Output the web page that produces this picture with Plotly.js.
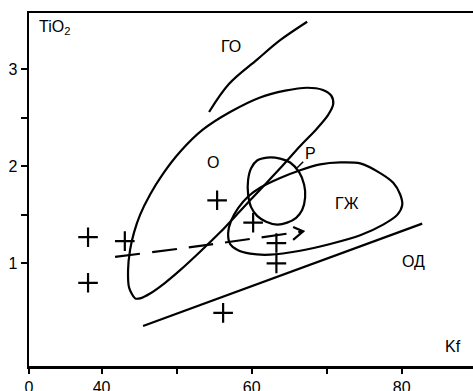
<!DOCTYPE html>
<html>
<head>
<meta charset="utf-8">
<script src="https://cdn.plot.ly/plotly-3.0.1.min.js"></script>
<style>html,body{margin:0;padding:0;background:#fff}#chart{width:473px;height:391px}</style>
</head>
<body>
<div id="chart"></div>
<script>
// Sample points (+)
const crossKf   = [38.2, 38.2, 43.1, 55.4, 60.2, 63.3, 63.3, 56.2];
const crossTiO2 = [1.27, 0.80, 1.23, 1.65, 1.42, 1.21, 1.00, 0.49];

// Field "O"
const oKf   = [44.47, 43.67, 43.53, 43.8, 44.33, 45.13, 46.47, 48.07, 50.47, 53.53, 57.13, 61.13, 64.47, 67.4, 69.4, 70.6, 70.87, 70.2, 68.6, 66.47, 63.8, 61.13, 58.47, 55.8, 53.13, 50.47, 48.47, 46.47, 45.13, 44.47];
const oTiO2 = [0.64, 0.75, 0.93, 1.14, 1.32, 1.50, 1.71, 1.91, 2.15, 2.38, 2.56, 2.71, 2.78, 2.81, 2.79, 2.73, 2.64, 2.53, 2.38, 2.21, 1.98, 1.76, 1.54, 1.32, 1.12, 0.93, 0.80, 0.69, 0.64, 0.64];

// Field "ГЖ"
const gzKf   = [59.53, 61.13, 63.8, 66.47, 69.13, 71.8, 74.47, 77.13, 78.87, 79.8, 80.07, 79.4, 77.53, 74.47, 70.47, 66.47, 62.47, 59.8, 58.07, 57.13, 56.87, 57.27, 58.2, 59.53];
const gzTiO2 = [1.69, 1.78, 1.88, 1.96, 2.02, 2.04, 2.03, 1.93, 1.83, 1.71, 1.60, 1.50, 1.40, 1.29, 1.20, 1.13, 1.09, 1.10, 1.14, 1.20, 1.31, 1.44, 1.57, 1.69];

// Field "Р"
const rKf   = [59.53, 59.53, 59.93, 60.73, 62.07, 63.8, 65.13, 66.33, 67.0, 67.13, 66.73, 65.93, 64.73, 63.4, 61.93, 60.73, 59.93, 59.53];
const rTiO2 = [1.71, 1.86, 1.98, 2.06, 2.09, 2.08, 2.04, 1.94, 1.81, 1.68, 1.55, 1.47, 1.42, 1.40, 1.43, 1.49, 1.58, 1.71];

// Line "ГО"
const goKf   = [54.33, 57.0, 60.73, 63.8, 67.4];
const goTiO2 = [2.56, 2.85, 3.10, 3.30, 3.49];

// Line "ОД"
const odKf   = [45.53, 82.73];
const odTiO2 = [0.356, 1.41];

// Dashed trend
const trKf   = [41.8, 53.13, 66.87];
const trTiO2 = [1.067, 1.18, 1.33];
const ahKf   = [65.53, 66.87, 65.53];
const ahTiO2 = [1.376, 1.33, 1.242];

const xTickVals = [30.33, 40, 50, 60, 70, 80];
const xTickText = ['0', '40', '', '60', '', '80'];
const yTickVals = [1, 1.5, 2, 2.5, 3];
const yTickText = ['1', '', '2', '', '3'];

const black = '#000';
const lw = 2.2;
const traces = [
  {x: oKf, y: oTiO2, mode: 'lines', line: {color: black, width: lw, shape: 'spline', smoothing: 0.8}},
  {x: gzKf, y: gzTiO2, mode: 'lines', line: {color: black, width: lw, shape: 'spline', smoothing: 0.8}},
  {x: rKf, y: rTiO2, mode: 'lines', line: {color: black, width: lw, shape: 'spline', smoothing: 0.8}},
  {x: goKf, y: goTiO2, mode: 'lines', line: {color: black, width: lw, shape: 'spline'}},
  {x: odKf, y: odTiO2, mode: 'lines', line: {color: black, width: lw}},
  {x: trKf, y: trTiO2, mode: 'lines', line: {color: black, width: lw, shape: 'spline', dash: '25px,12px'}},
  {x: ahKf, y: ahTiO2, mode: 'lines', line: {color: black, width: lw}},
  {x: crossKf, y: crossTiO2, mode: 'markers', marker: {symbol: 'cross-thin', size: 14, line: {color: black, width: 2.2}}}
];

const font = {family: 'Liberation Sans, Arial, sans-serif', size: 16, color: black};
const ann = (x, y, text, xa) => ({x, y, text, xref: 'x', yref: 'y', showarrow: false, font, xanchor: xa || 'center', yanchor: 'middle'});

const layout = {
  width: 473, height: 391,
  margin: {l: 29, r: 0, t: 13, b: 25},
  paper_bgcolor: '#fff', plot_bgcolor: '#fff',
  showlegend: false,
  font: font,
  xaxis: {range: [30.33, 89.5], showgrid: false, zeroline: false, showline: true, linecolor: black, linewidth: 2.5, mirror: true,
          ticks: 'outside', ticklen: 5, tickwidth: 2, tickcolor: black, tickvals: xTickVals, ticktext: xTickText, tickfont: font},
  yaxis: {range: [-0.057, 3.58], showgrid: false, zeroline: false, showline: true, linecolor: black, linewidth: 2.5,
          ticks: 'outside', ticklen: 6, tickwidth: 2, tickcolor: black, tickvals: yTickVals, ticktext: yTickText, tickfont: font},
  shapes: [
    {type: 'line', xref: 'x', yref: 'y', x0: 66.07, y0: 1.985, x1: 66.87, y1: 2.047, line: {color: black, width: 1.5}}
  ],
  annotations: [
    ann(31.4, 3.43, 'TiO<sub>2</sub>', 'left'),
    ann(57.27, 3.24, 'ГО'),
    ann(54.87, 2.04, 'О'),
    ann(67.8, 2.13, 'Р'),
    ann(72.73, 1.62, 'ГЖ'),
    ann(81.53, 1.015, 'ОД'),
    ann(86.87, 0.14, 'Kf')
  ]
};

Plotly.newPlot('chart', traces, layout, {staticPlot: true, displayModeBar: false});
</script>
</body>
</html>
